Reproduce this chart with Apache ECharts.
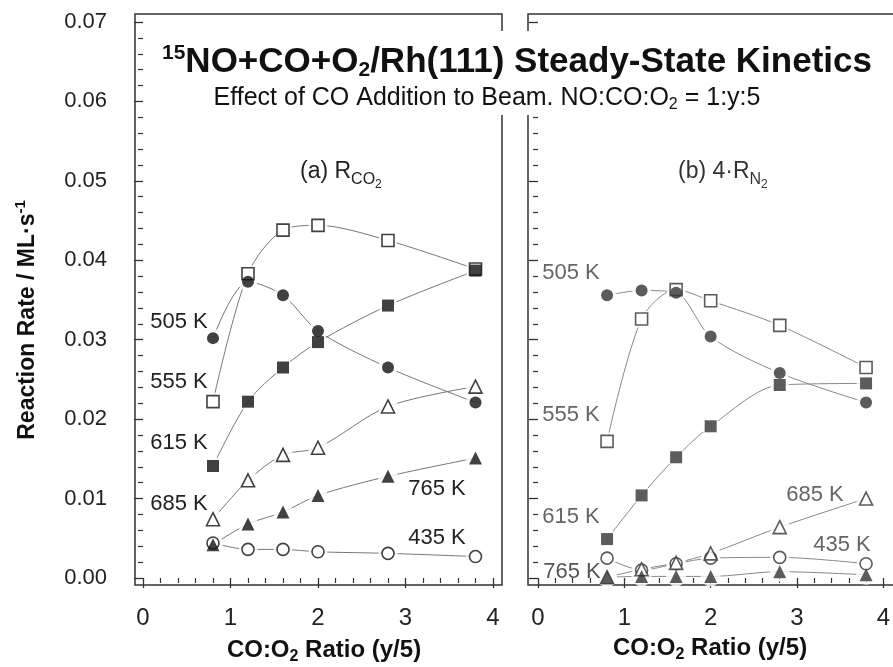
<!DOCTYPE html>
<html>
<head>
<meta charset="utf-8">
<script src="https://cdn.jsdelivr.net/npm/echarts@6/dist/echarts.min.js"></script>
<style>
  html, body { margin: 0; padding: 0; background: #fff; }
  #chart { width: 893px; height: 667px; }
</style>
</head>
<body>
<div id="chart"></div>
<script>
// CO:O2 ratios (y/5) sampled in both panels
const ratio = [0.8, 1.2, 1.6, 2.0, 2.8, 3.8];

// (a) R_CO2 in ML/s for each surface temperature
const co2_435 = [0.0044, 0.0036, 0.0036, 0.0033, 0.0031, 0.0027];
const co2_505 = [0.0302, 0.0373, 0.0356, 0.0311, 0.0265, 0.0221];
const co2_555 = [0.0222, 0.0383, 0.0438, 0.0444, 0.0425, 0.0389];
const co2_615 = [0.0141, 0.0222, 0.0265, 0.0297, 0.0343, 0.0387];
const co2_685 = [0.0074, 0.0123, 0.0155, 0.0164, 0.0216, 0.0241];
const co2_765 = [0.0042, 0.0068, 0.0083, 0.0104, 0.0128, 0.0151];

// (b) 4*R_N2 in ML/s for each surface temperature
const n2_435 = [0.0025, 0.0010, 0.0018, 0.0025, 0.0026, 0.0018];
const n2_505 = [0.0356, 0.0362, 0.0359, 0.0304, 0.0258, 0.0221];
const n2_555 = [0.0172, 0.0326, 0.0363, 0.0349, 0.0318, 0.0265];
const n2_615 = [0.0049, 0.0104, 0.0152, 0.0191, 0.0243, 0.0245];
const n2_685 = [0.0001, 0.0011, 0.0019, 0.0031, 0.0064, 0.0100];
const n2_765 = [0.0001, 0.0002, 0.0002, 0.0002, 0.0008, 0.0004];

// axis ticks
const yTicks = [0, 0.01, 0.02, 0.03, 0.04, 0.05, 0.06, 0.07];
const xTicks = [0, 1, 2, 3, 4];

const FONT = '"Liberation Sans", Arial, Helvetica, sans-serif';

// marker style per temperature; open markers are drawn first so filled ones sit on top
const styles = [
  { key: '435', symbol: 'circle',   size: 12, filled: false },
  { key: '555', symbol: 'rect',     size: 12, filled: false },
  { key: '685', symbol: 'triangle', size: 13, filled: false },
  { key: '505', symbol: 'circle',   size: 12, filled: true  },
  { key: '615', symbol: 'rect',     size: 12, filled: true  },
  { key: '765', symbol: 'triangle', size: 13, filled: true  }
];
const panelA = { '435': co2_435, '505': co2_505, '555': co2_555, '615': co2_615, '685': co2_685, '765': co2_765 };
const panelB = { '435': n2_435, '505': n2_505, '555': n2_555, '615': n2_615, '685': n2_685, '765': n2_765 };

function pairs(vals) { return ratio.map((x, i) => [x, vals[i]]); }

function panelSeries(data, gi, ink, lineInk) {
  const out = [];
  styles.forEach(s => {
    const d = pairs(data[s.key]);
    out.push({
      type: 'line', xAxisIndex: gi, yAxisIndex: gi, data: d, z: 2,
      showSymbol: false, smooth: 0.3, silent: true,
      lineStyle: { color: lineInk, width: 1 }
    });
    out.push({
      type: 'scatter', xAxisIndex: gi, yAxisIndex: gi, data: d, z: 3,
      symbol: 'circle', symbolSize: s.size + 7, silent: true,
      itemStyle: { color: '#fff' }
    });
  });
  styles.forEach(s => {
    out.push({
      type: 'scatter', xAxisIndex: gi, yAxisIndex: gi, data: pairs(data[s.key]), z: 4,
      symbol: s.symbol, symbolSize: s.size, silent: true,
      itemStyle: s.filled
        ? { color: ink, borderWidth: 0 }
        : { color: '#fff', borderColor: ink, borderWidth: 1.6 }
    });
  });
  return out;
}

function yAxisDef(gi, offset, showLabels) {
  return {
    type: 'value', gridIndex: gi, min: yTicks[0], max: yTicks[yTicks.length - 1], interval: 0.01,
    offset: offset,
    axisLine: { show: false },
    axisTick: { show: true, inside: false, length: 9, lineStyle: { color: '#333', width: 1.3 } },
    minorTick: { show: true, splitNumber: 5, length: 5, lineStyle: { color: '#333', width: 1.2 } },
    splitLine: { show: false },
    axisLabel: {
      show: showLabels, margin: 28, fontSize: 22, color: '#222', fontFamily: FONT,
      formatter: v => v.toFixed(2)
    }
  };
}
function xAxisDef(gi) {
  return {
    type: 'value', gridIndex: gi, min: xTicks[0], max: xTicks[xTicks.length - 1], interval: 1,
    offset: 7,
    axisLine: { show: false },
    axisTick: { show: true, inside: false, length: 10, lineStyle: { color: '#333', width: 1.3 } },
    minorTick: { show: true, splitNumber: 5, length: 5, lineStyle: { color: '#333', width: 1.2 } },
    splitLine: { show: false },
    axisLabel: { margin: 21, fontSize: 24, color: '#222', fontFamily: FONT }
  };
}

function label(text, x, y, color) {
  return {
    type: 'text', x: x, y: y, z: 20,
    style: { text: text, fill: color, font: '22px ' + FONT, align: 'center', verticalAlign: 'middle' }
  };
}

const frameStyle = { stroke: '#333', lineWidth: 1.5, fill: null };

const graphic = [
  // panel frames
  { type: 'rect', z: 1, shape: { x: 135, y: 14, width: 367, height: 571 }, style: frameStyle, silent: true },
  { type: 'rect', z: 1, shape: { x: 528, y: 14, width: 370, height: 571 }, style: frameStyle, silent: true },
  // header backdrop
  { type: 'rect', z: 10, shape: { x: 150, y: 31, width: 743, height: 84 }, style: { fill: '#fff' }, silent: true },
  {
    type: 'text', x: 517, y: 62, z: 11,
    style: {
      text: '{sup|15}{b|NO+CO+O}{sub|2}{b|/Rh(111) Steady-State Kinetics}',
      align: 'center', verticalAlign: 'middle', fill: '#111',
      rich: {
        b:   { fontSize: 35, fontWeight: 'bold', fontFamily: FONT, fill: '#111' },
        sup: { fontSize: 21, fontWeight: 'bold', fontFamily: FONT, fill: '#111', padding: [0, 0, 18, 0] },
        sub: { fontSize: 21, fontWeight: 'bold', fontFamily: FONT, fill: '#111', padding: [16, 0, 0, 0] }
      }
    }
  },
  {
    type: 'text', x: 487, y: 98, z: 11,
    style: {
      text: '{r|Effect of CO Addition to Beam. NO:CO:O}{s|2}{r| = 1:y:5}',
      align: 'center', verticalAlign: 'middle', fill: '#111',
      rich: {
        r: { fontSize: 25, fontFamily: FONT, fill: '#111' },
        s: { fontSize: 16, fontFamily: FONT, fill: '#111', padding: [14, 0, 0, 0] }
      }
    }
  },
  // panel headings
  {
    type: 'text', x: 300, y: 172, z: 11,
    style: {
      text: '{t|(a) R}{s|CO}{ss|2}', align: 'left', verticalAlign: 'middle', fill: '#222',
      rich: {
        t:  { fontSize: 23, fontFamily: FONT, fill: '#222' },
        s:  { fontSize: 16, fontFamily: FONT, fill: '#222', padding: [16, 0, 0, 0] },
        ss: { fontSize: 12, fontFamily: FONT, fill: '#222', padding: [26, 0, 0, 0] }
      }
    }
  },
  {
    type: 'text', x: 678, y: 172, z: 11,
    style: {
      text: '{t|(b) 4·R}{s|N}{ss|2}', align: 'left', verticalAlign: 'middle', fill: '#333',
      rich: {
        t:  { fontSize: 23, fontFamily: FONT, fill: '#333' },
        s:  { fontSize: 16, fontFamily: FONT, fill: '#333', padding: [16, 0, 0, 0] },
        ss: { fontSize: 12, fontFamily: FONT, fill: '#333', padding: [26, 0, 0, 0] }
      }
    }
  },
  // axis titles
  {
    type: 'text', x: 28, y: 320, z: 11, rotation: Math.PI / 2,
    style: {
      text: '{b|Reaction Rate / ML·s}{sup|-1}', align: 'center', verticalAlign: 'middle', fill: '#111',
      rich: {
        b:   { fontSize: 23, fontWeight: 'bold', fontFamily: FONT, fill: '#111' },
        sup: { fontSize: 15, fontWeight: 'bold', fontFamily: FONT, fill: '#111', padding: [0, 0, 14, 0] }
      }
    }
  },
  {
    type: 'text', x: 324, y: 650, z: 11,
    style: {
      text: '{b|CO:O}{s|2}{b| Ratio (y/5)}', align: 'center', verticalAlign: 'middle', fill: '#111',
      rich: {
        b: { fontSize: 24, fontWeight: 'bold', fontFamily: FONT, fill: '#111' },
        s: { fontSize: 16, fontWeight: 'bold', fontFamily: FONT, fill: '#111', padding: [14, 0, 0, 0] }
      }
    }
  },
  {
    type: 'text', x: 710, y: 648, z: 11,
    style: {
      text: '{b|CO:O}{s|2}{b| Ratio (y/5)}', align: 'center', verticalAlign: 'middle', fill: '#111',
      rich: {
        b: { fontSize: 24, fontWeight: 'bold', fontFamily: FONT, fill: '#111' },
        s: { fontSize: 16, fontWeight: 'bold', fontFamily: FONT, fill: '#111', padding: [14, 0, 0, 0] }
      }
    }
  },
  // temperature labels, panel (a)
  label('505 K', 179, 322, '#222'),
  label('555 K', 179, 382, '#222'),
  label('615 K', 179, 443, '#222'),
  label('685 K', 179, 504, '#222'),
  label('765 K', 437, 489, '#222'),
  label('435 K', 437, 538, '#222'),
  // temperature labels, panel (b)
  label('505 K', 571, 273, '#666'),
  label('555 K', 571, 415, '#666'),
  label('615 K', 571, 517, '#666'),
  label('765 K', 572, 572, '#555'),
  label('685 K', 815, 495, '#666'),
  label('435 K', 842, 545, '#666')
];

const chart = echarts.init(document.getElementById('chart'), null, { renderer: 'canvas' });
chart.setOption({
  animation: false,
  backgroundColor: '#fff',
  grid: [
    { left: 143, top: 22, width: 350, height: 556 },
    { left: 538, top: 22, width: 349, height: 556 }
  ],
  xAxis: [xAxisDef(0), xAxisDef(1)],
  yAxis: [yAxisDef(0, 8, true), yAxisDef(1, 10, false)],
  series: [].concat(
    panelSeries(panelA, 0, '#111', '#777'),
    panelSeries(panelB, 1, '#333', '#888')
  ),
  graphic: graphic
});
</script>
</body>
</html>
